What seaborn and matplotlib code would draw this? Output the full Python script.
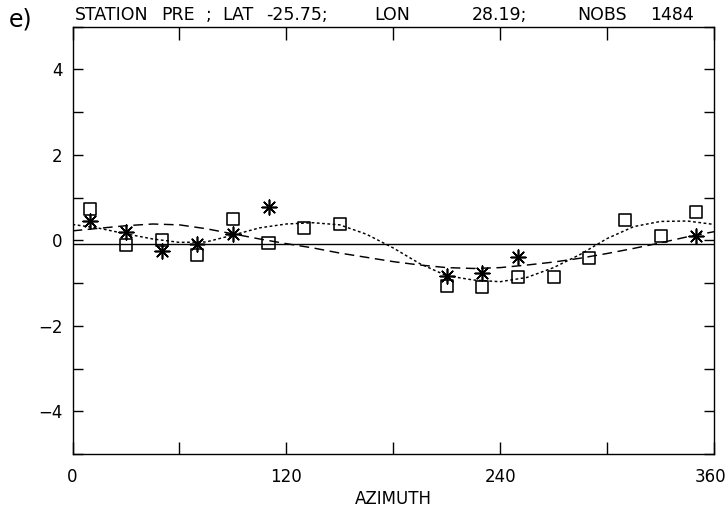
import numpy as np
import pandas as pd
import matplotlib
matplotlib.use("Agg")
import matplotlib.pyplot as plt
import matplotlib.transforms as mtransforms
import seaborn as sns
from matplotlib.ticker import FixedLocator

# ---------------- data ----------------
azimuth_obs = [10, 30, 50, 70, 90, 110, 130, 150, 170, 190,
               210, 230, 250, 270, 290, 310, 330, 350]
square_vals = [0.72, -0.11, 0.01, -0.34, 0.50, -0.07, 0.28, 0.38, np.nan, np.nan,
               -1.08, -1.10, -0.87, -0.85, -0.42, 0.48, 0.11, 0.66]
star_vals = [0.46, 0.19, -0.26, -0.09, 0.14, 0.78, np.nan, np.nan, np.nan, np.nan,
             -0.83, -0.77, -0.40, np.nan, np.nan, np.nan, np.nan, 0.11]

azimuth_fit = [0, 15, 30, 45, 60, 75, 90, 105, 120, 135, 150, 165, 180,
               195, 210, 225, 240, 255, 270, 285, 300, 315, 330, 345, 360]
fit_dashed = [0.22, 0.28, 0.34, 0.38, 0.36, 0.27, 0.15, 0.03, -0.08, -0.18, -0.30,
              -0.40, -0.50, -0.58, -0.64, -0.66, -0.64, -0.58, -0.51, -0.42, -0.31,
              -0.19, -0.06, 0.08, 0.20]
fit_dotted = [0.37, 0.28, 0.15, 0.03, -0.05, -0.04, 0.12, 0.29, 0.38, 0.41, 0.36,
              0.14, -0.18, -0.55, -0.83, -0.93, -0.97, -0.87, -0.64, -0.33, 0.04,
              0.32, 0.44, 0.45, 0.37]
mean_level = -0.08

x_ticks = [0, 120, 240, 360]
x_tick_labels = ["0", "120", "240", "360"]
x_minor_ticks = [60, 180, 300]
y_ticks = [-4, -2, 0, 2, 4]
y_tick_labels = ["\u22124", "\u22122", "0", "2", "4"]
y_minor_ticks = [-5, -3, -1, 1, 3, 5]

title_tokens = ["STATION", "PRE", ";", "LAT", "-25.75;", "LON", "28.19;", "NOBS", "1484"]
panel_label = "e)"
x_label = "AZIMUTH"

# ---------------- layout / style ----------------
W, H = 728, 509
title_token_px = [75, 161, 206, 222, 266, 374, 472, 577, 650]

sns.set_theme(style="ticks")
plt.rcParams["font.family"] = ["DejaVu Sans"]
plt.rcParams["lines.scale_dashes"] = False

fig = plt.figure(figsize=(W / 100, H / 100), dpi=100)
ax = fig.add_axes([72.5 / W, 1 - 454 / H, (714 - 72.5) / W, (454 - 26.5) / H])

obs = pd.DataFrame({"azimuth": azimuth_obs, "square": square_vals, "star": star_vals})
fit = pd.DataFrame({"azimuth": azimuth_fit, "dashed": fit_dashed, "dotted": fit_dotted})

ax.axhline(mean_level, color="black", lw=1.0, zorder=1)

sns.lineplot(data=fit, x="azimuth", y="dashed", ax=ax, color="black", lw=1.05)
ax.lines[-1].set_dashes((7, 4))
sns.lineplot(data=fit, x="azimuth", y="dotted", ax=ax, color="black", lw=1.05)
ax.lines[-1].set_dashes((2, 1.8))

sns.scatterplot(data=obs, x="azimuth", y="square", ax=ax, marker="s", s=75,
                facecolor="none", edgecolor="black", linewidth=1.15, zorder=3)
sns.scatterplot(data=obs, x="azimuth", y="star", ax=ax, marker=(8, 2, 0), s=110,
                color="black", edgecolor="black", linewidth=1.2, zorder=4)

ax.set_xlim(0, 360)
ax.set_ylim(-5, 5)

ax.xaxis.set_major_locator(FixedLocator(x_ticks))
ax.set_xticklabels(x_tick_labels)
ax.xaxis.set_minor_locator(FixedLocator(x_minor_ticks))
ax.yaxis.set_major_locator(FixedLocator(y_ticks))
ax.set_yticklabels(y_tick_labels)
ax.yaxis.set_minor_locator(FixedLocator(y_minor_ticks))

ax.tick_params(axis="x", which="both", direction="in", top=True, bottom=True,
               length=9, width=1.0, color="black", labelsize=12, pad=10,
               labelcolor="black")
ax.tick_params(axis="y", which="both", direction="in", left=True, right=True,
               length=7, width=1.0, color="black", labelsize=12, pad=7,
               labelcolor="black")

# keep the last x tick label inside the canvas
last = ax.get_xticklabels()[-1]
last.set_transform(last.get_transform() +
                   mtransforms.ScaledTranslation(-4 / 100, 0, fig.dpi_scale_trans))

for sp in ax.spines.values():
    sp.set_visible(True)
    sp.set_color("black")
    sp.set_linewidth(1.0)

ax.set_xlabel(x_label, fontsize=12, color="black", labelpad=3)
ax.set_ylabel("")
ax.grid(False)
ax.set_facecolor("white")
fig.patch.set_facecolor("white")

for tok, px in zip(title_tokens, title_token_px):
    fig.text(px / W, 1 - 15 / H, tok, fontsize=12.5, color="black",
             ha="left", va="center")
fig.text(9 / W, 1 - 20 / H, panel_label, fontsize=17, color="black",
         ha="left", va="center")

fig.savefig("out.png", dpi=100)
